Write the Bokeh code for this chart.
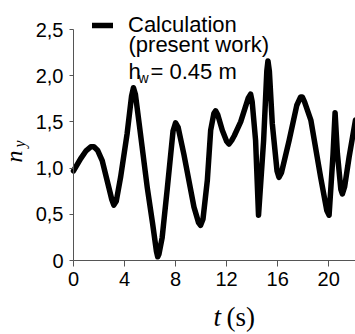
import math
from bokeh.plotting import figure
from bokeh.models import Range1d, FixedTicker, Label, Legend, LegendItem
from bokeh.embed import file_html
from bokeh.resources import INLINE

# ---- data ----
t_s = [0.0, 0.55, 1.0, 1.35, 1.6, 1.9, 2.25, 2.77, 3.0, 3.16, 3.35, 3.69, 4.2, 4.55, 4.7,
       4.85, 5.12, 5.78, 6.2, 6.5, 6.6, 6.7, 6.95, 7.35, 7.8, 8.0, 8.2, 8.65, 9.44, 9.8,
       9.96, 10.15, 10.49, 10.75, 11.0, 11.14, 11.3, 11.66, 12.0, 12.18, 12.4, 12.6,
       13.1, 13.7, 13.88, 14.0, 14.27, 14.5, 14.9, 15.15, 15.24, 15.35, 15.58, 15.95,
       16.1, 16.3, 16.9, 17.5, 17.8, 17.93, 18.1, 18.6, 19.37, 19.85, 20.03, 20.34,
       20.5, 20.68, 20.95, 21.07, 21.25, 21.6, 22.1]
n_y = [0.97, 1.10, 1.19, 1.23, 1.23, 1.19, 1.08, 0.79, 0.66, 0.60, 0.64, 0.90, 1.37, 1.78, 1.87,
       1.80, 1.51, 0.79, 0.40, 0.10, 0.04, 0.07, 0.25, 0.78, 1.40, 1.49, 1.44, 1.15, 0.58, 0.41,
       0.38, 0.45, 0.87, 1.41, 1.59, 1.62, 1.58, 1.41, 1.29, 1.26, 1.30, 1.35,
       1.50, 1.76, 1.80, 1.72, 1.30, 0.49, 1.30, 2.05, 2.16, 2.05, 1.48, 0.97,
       0.90, 0.95, 1.30, 1.68, 1.77, 1.77, 1.72, 1.52, 0.90, 0.54, 0.49, 1.15,
       1.60, 1.16, 0.77, 0.72, 0.80, 1.12, 1.52]

x_ticks = [0, 4, 8, 12, 16, 20]
y_ticks = [0, 0.5, 1.0, 1.5, 2.0, 2.5]
y_tick_labels = ["0", "0,5", "1,0", "1,5", "2,0", "2,5"]
legend_label = "Calculation"
legend_note = "(present work)"
legend_hw = ["h", "w", "= 0.45 m"]

# ---- layout (page pixels) ----
W, H = 355, 334
AX_L, AX_B, AX_T = 73, 260, 29       # axes origin / top of y axis in page pixels
X_MAX, Y_MAX = 22.1, 2.5
sx = (W - AX_L) / X_MAX
sy = (AX_B - AX_T) / Y_MAX
x_rng = Range1d(-AX_L / sx, X_MAX)
y_rng = Range1d(-(H - AX_B) / sy, Y_MAX + AX_T / sy)

p = figure(width=W, height=H, output_backend="svg", toolbar_location=None,
           x_range=x_rng, y_range=y_rng, min_border=0,
           min_border_left=0, min_border_right=0, min_border_top=0, min_border_bottom=0)
p.outline_line_color = None
p.grid.visible = False
p.background_fill_color = "white"
p.border_fill_color = "white"

r = p.line(t_s, n_y, line_color="black", line_width=5.5, line_join="round", line_cap="round")

for ax in (p.xaxis[0], p.yaxis[0]):
    ax.fixed_location = 0
    ax.axis_line_color = "#555555"
    ax.major_tick_line_color = "#555555"
    ax.minor_tick_line_color = None
    ax.major_tick_in = 0
    ax.major_label_text_font = "Liberation Sans"
    ax.major_label_text_font_size = "20px"
    ax.major_label_text_color = "black"

p.xaxis.bounds = (0, X_MAX)
p.xaxis.ticker = FixedTicker(ticks=x_ticks)
p.xaxis.major_tick_out = 6
p.xaxis.major_label_standoff = 5
p.yaxis.bounds = (0, Y_MAX)
p.yaxis.ticker = FixedTicker(ticks=y_ticks)
p.yaxis.major_label_overrides = {v: s for v, s in zip(y_ticks, y_tick_labels)}
p.yaxis.major_tick_out = 4
p.yaxis.major_label_standoff = 6

leg = Legend(items=[LegendItem(label=legend_label, renderers=[r])],
             location=(92, 296), padding=0, margin=0, spacing=0,
             glyph_width=21, glyph_height=20, label_height=20, label_standoff=15,
             label_text_font="Liberation Sans", label_text_font_size="22px",
             label_text_color="black",
             border_line_alpha=0, background_fill_alpha=0)
p.add_layout(leg, "center")

def lab(X, Ymid, text, size, font="Liberation Sans", style="normal", angle=0.0):
    # X, Ymid: page pixels from top-left (Ymid = middle line of the text)
    p.add_layout(Label(x=X, y=H - Ymid, x_units="screen", y_units="screen", text=text,
                       text_font=font, text_font_size=size, text_font_style=style,
                       text_color="black", text_baseline="middle", text_align="left",
                       angle=angle))

# legend extra lines
lab(128, 44, legend_note, "22px")
lab(128, 71, legend_hw[0], "22px")
lab(138, 77, legend_hw[1], "14px")
lab(150, 71, legend_hw[2], "22px")

# axis titles
lab(213, 316, "t", "27px", font="Liberation Serif", style="italic")
lab(226, 316, "(s)", "27px", font="Liberation Serif")
lab(13, 162, "n", "24px", font="Liberation Serif", style="italic", angle=math.pi / 2)
lab(19, 147, "y", "16px", font="Liberation Serif", style="italic", angle=math.pi / 2)

open("out.html", "w").write(file_html(p, INLINE))
